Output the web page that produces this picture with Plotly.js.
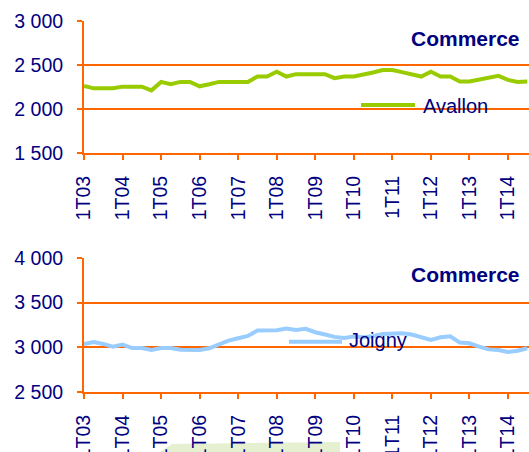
<!DOCTYPE html>
<html>
<head>
<meta charset="utf-8">
<script src="https://cdn.plot.ly/plotly-3.0.1.min.js"></script>
<style>
html,body{margin:0;padding:0;background:#fff;}
#chart{width:529px;height:452px;}
</style>
</head>
<body>
<div id="chart"></div>
<script>
// Quarter categories 1T03 .. 3T14
const years = ['03','04','05','06','07','08','09','10','11','12','13','14'];
const quarters = [];
years.forEach(y => { for (let q = 1; q <= 4; q++) quarters.push(q + 'T' + y); });
const categories = quarters.slice(0, 47);
const yearTicks = years.map(y => '1T' + y);

const avallon = [
  2262, 2235, 2235, 2235, 2254, 2254, 2254, 2212,
  2308, 2281, 2308, 2308, 2258, 2281, 2308, 2308,
  2308, 2308, 2369, 2369, 2423, 2369, 2396, 2396,
  2396, 2396, 2350, 2369, 2369, 2388, 2415, 2442,
  2442, 2419, 2396, 2369, 2423, 2369, 2369, 2312,
  2312, 2335, 2358, 2377, 2331, 2308, 2312
];
const joigny = [
  3038, 3060, 3038, 3008, 3030, 2992, 2992, 2970,
  2992, 2992, 2974, 2970, 2970, 2989, 3030, 3075,
  3102, 3128, 3188, 3188, 3192, 3210, 3195, 3207,
  3169, 3143, 3117, 3105, 3120, 3113, 3124, 3150,
  3158, 3158, 3143, 3113, 3083, 3113, 3124, 3053,
  3045, 3008, 2977, 2970, 2947, 2962, 2989
];
const topTicks = [1500, 2000, 2500, 3000];
const botTicks = [2500, 3000, 3500, 4000];
const fmt = v => String(v).replace(/\B(?=(\d{3})+(?!\d))/g, ' ');

const navy = '#000080';
const orange = '#ff6600';
const font = 'Arial, "Liberation Sans", sans-serif';

const xaxisBase = {
  type: 'category',
  categoryorder: 'array',
  categoryarray: categories,
  range: [0, 46.18],
  tickmode: 'array',
  tickvals: yearTicks,
  ticktext: yearTicks,
  tickangle: -90,
  ticks: 'outside',
  ticklen: 5,
  tickwidth: 2,
  tickcolor: orange,
  ticklabelstandoff: 8,
  showline: true,
  linecolor: orange,
  linewidth: 2,
  showgrid: false,
  zeroline: false,
  tickfont: {family: font, size: 19.5, color: navy},
  fixedrange: true
};
const yaxisBase = {
  tickmode: 'array',
  ticks: 'outside',
  ticklen: 5,
  tickwidth: 2,
  tickcolor: orange,
  ticklabelstandoff: 10,
  showline: true,
  linecolor: orange,
  linewidth: 2,
  showgrid: true,
  gridcolor: orange,
  gridwidth: 2,
  zeroline: false,
  tickfont: {family: font, size: 19.5, color: navy},
  fixedrange: true
};

const traces = [
  {x: categories, y: avallon, xaxis: 'x', yaxis: 'y', type: 'scatter', mode: 'lines',
   name: 'Avallon', line: {color: '#99cc00', width: 4}, showlegend: false},
  {x: categories, y: joigny, xaxis: 'x2', yaxis: 'y2', type: 'scatter', mode: 'lines',
   name: 'Joigny', line: {color: '#99ccff', width: 4}, showlegend: false}
];

const layout = {
  width: 529, height: 452,
  margin: {l: 84, r: 0, t: 21, b: 60},
  paper_bgcolor: '#fff', plot_bgcolor: '#fff',
  showlegend: false,
  xaxis: Object.assign({}, xaxisBase, {anchor: 'y'}),
  yaxis: Object.assign({}, yaxisBase, {domain: [0.6442, 1], range: [1500, 3000],
    tickvals: topTicks, ticktext: topTicks.map(fmt), anchor: 'x'}),
  xaxis2: Object.assign({}, xaxisBase, {anchor: 'y2'}),
  yaxis2: Object.assign({}, yaxisBase, {domain: [0, 0.3612], range: [2500, 4000],
    tickvals: botTicks, ticktext: botTicks.map(fmt), anchor: 'x2'}),
  shapes: [
    {type: 'path', xref: 'paper', yref: 'paper', layer: 'below',
     path: 'M 0.1708 -0.1617 L 0.1978 -0.140 L 0.5753 -0.1348 L 0.5753 -0.1617 Z',
     fillcolor: 'rgba(205,228,170,0.55)', line: {width: 0}},
    {type: 'line', xref: 'paper', yref: 'paper', x0: 0.6225, x1: 0.7438, y0: 0.7736, y1: 0.7736,
     line: {color: '#99cc00', width: 4}},
    {type: 'line', xref: 'paper', yref: 'paper', x0: 0.4607, x1: 0.5798, y0: 0.1356, y1: 0.1356,
     line: {color: '#99ccff', width: 4}}
  ],
  annotations: [
    {text: '<b>Commerce</b>', xref: 'paper', yref: 'paper', x: 0.985, y: 0.953,
     xanchor: 'right', yanchor: 'middle', showarrow: false,
     font: {family: font, size: 21, color: navy}},
    {text: '<b>Commerce</b>', xref: 'paper', yref: 'paper', x: 0.985, y: 0.3154,
     xanchor: 'right', yanchor: 'middle', showarrow: false,
     font: {family: font, size: 21, color: navy}},
    {text: 'Avallon', xref: 'paper', yref: 'paper', x: 0.757, y: 0.771,
     xanchor: 'left', yanchor: 'middle', showarrow: false,
     font: {family: font, size: 20, color: navy}},
    {text: 'Joigny', xref: 'paper', yref: 'paper', x: 0.591, y: 0.1402,
     xanchor: 'left', yanchor: 'middle', showarrow: false,
     font: {family: font, size: 20, color: navy}}
  ]
};

Plotly.newPlot('chart', traces, layout, {displayModeBar: false, staticPlot: true});
</script>
</body>
</html>
